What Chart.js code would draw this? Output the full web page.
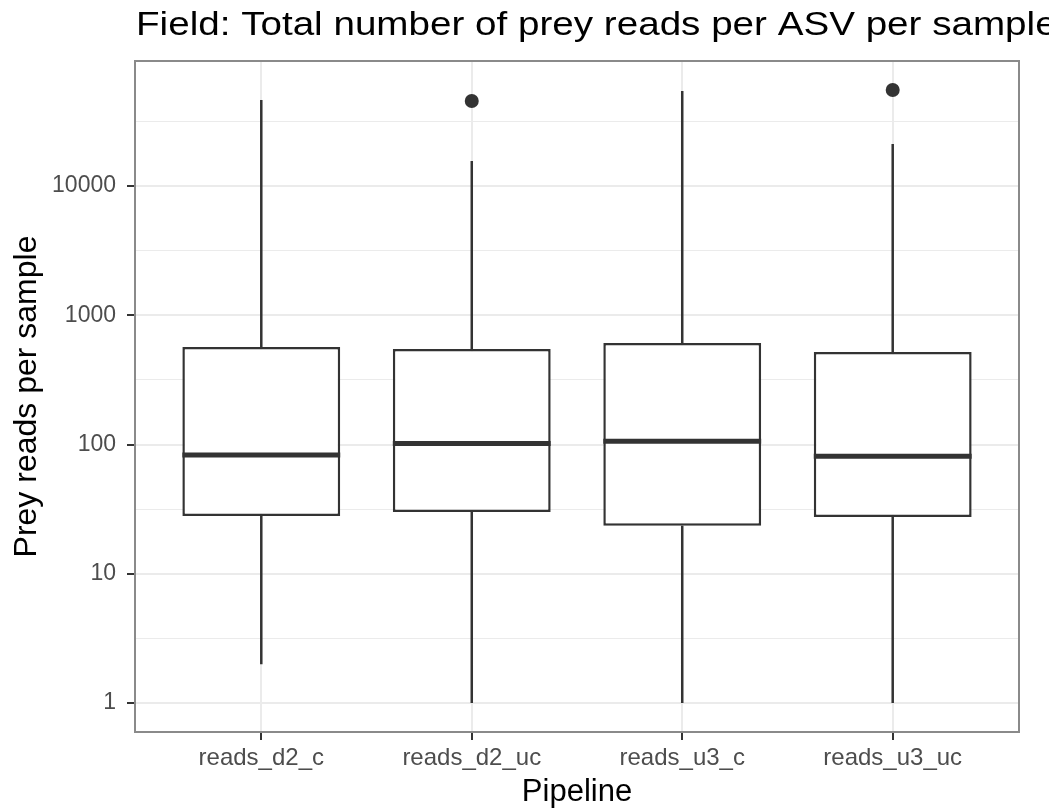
<!DOCTYPE html>
<html>
<head>
<meta charset="utf-8">
<script src="https://cdn.jsdelivr.net/npm/chart.js@4.4.1/dist/chart.umd.min.js"></script>
<style>
  html, body { margin: 0; padding: 0; background: #fff; }
  #wrap { width: 1049px; height: 811px; }
</style>
</head>
<body>
<div id="wrap"><canvas id="box"></canvas></div>
<script>
// Boxplot: prey reads per sample for each pipeline (log10 y axis)
const pipelines = ['reads_d2_c', 'reads_d2_uc', 'reads_u3_c', 'reads_u3_uc'];
const whiskerLow = [2, 1, 1, 1];
const q1 = [28, 30, 23.5, 27.5];
const medians = [83, 102, 106, 81];
const q3 = [568, 548, 610, 520];
const whiskerHigh = [46300, 15600, 54300, 21100];
const outliers = [null, 45500, null, 55300];
const yMajorTicks = [1, 10, 100, 1000, 10000];

const FONT = "'Liberation Sans', Arial, Helvetica, sans-serif";
const isMajor = v => Math.abs(Math.log10(v) - Math.round(Math.log10(v))) < 1e-6;

// whiskers as one line with gaps between segments
const whiskerPts = [];
pipelines.forEach((p, i) => {
  whiskerPts.push({ x: i + 1, y: whiskerLow[i] }, { x: i + 1, y: q1[i] }, { x: i + 1, y: null });
  whiskerPts.push({ x: i + 1, y: q3[i] }, { x: i + 1, y: whiskerHigh[i] }, { x: i + 1, y: null });
});

// median line across each box + title + panel border
const boxExtras = {
  id: 'boxExtras',
  afterDatasetsDraw(chart) {
    const ctx = chart.ctx;
    const meta = chart.getDatasetMeta(0);
    ctx.save();
    ctx.strokeStyle = '#333333';
    ctx.lineWidth = 5;
    meta.data.forEach((bar, i) => {
      const y = chart.scales.y.getPixelForValue(medians[i]);
      ctx.beginPath();
      ctx.moveTo(bar.x - bar.width / 2, y);
      ctx.lineTo(bar.x + bar.width / 2, y);
      ctx.stroke();
    });
    ctx.restore();
  },
  afterDraw(chart) {
    const ctx = chart.ctx;
    const a = chart.chartArea;
    ctx.save();
    ctx.strokeStyle = '#8a8a8a';
    ctx.lineWidth = 2;
    ctx.strokeRect(a.left, a.top, a.right - a.left, a.bottom - a.top);
    // title is left-aligned on the panel and runs off the right edge, like the original
    ctx.fillStyle = '#000';
    ctx.font = '33px ' + FONT;
    ctx.textBaseline = 'middle';
    ctx.textAlign = 'left';
    ctx.translate(a.left + 1, 26);
    ctx.scale(1.17, 1);
    ctx.fillText('Field: Total number of prey reads per ASV per sample', 0, 0);
    ctx.restore();
  }
};

new Chart(document.getElementById('box'), {
  type: 'bar',
  data: {
    datasets: [
      {
        type: 'bar',
        label: 'box',
        data: pipelines.map((p, i) => ({ x: i + 1, y: [q1[i], q3[i]] })),
        backgroundColor: '#ffffff',
        borderColor: '#333333',
        borderWidth: 2.5,
        borderSkipped: false,
        categoryPercentage: 1,
        barPercentage: 0.75
      },
      {
        type: 'line',
        label: 'whiskers',
        data: whiskerPts,
        borderColor: '#333333',
        borderWidth: 2.5,
        pointRadius: 0,
        spanGaps: false
      },
      {
        type: 'scatter',
        label: 'outliers',
        data: pipelines.map((p, i) => ({ x: i + 1, y: outliers[i] })).filter(d => d.y !== null),
        backgroundColor: '#333333',
        borderWidth: 0,
        pointRadius: 7
      }
    ]
  },
  options: {
    responsive: true,
    maintainAspectRatio: false,
    animation: false,
    layout: { padding: { top: 61, right: 30, left: 0, bottom: 0 } },
    plugins: {
      legend: { display: false },
      tooltip: { enabled: false },
      title: { display: false }
    },
    scales: {
      x: {
        type: 'linear',
        min: 0.4,
        max: 4.6,
        bounds: 'data',
        offset: false,
        afterBuildTicks: s => { s.ticks = pipelines.map((p, i) => ({ value: i + 1 })); },
        afterFit: s => { s.height = 79; },
        border: { display: false },
        grid: { offset: false, color: '#ebebeb', lineWidth: 2, tickColor: '#333333', tickWidth: 2, tickLength: 8 },
        ticks: {
          callback: v => pipelines[v - 1],
          color: '#4d4d4d',
          font: { family: FONT, size: 24 },
          padding: 4,
          maxRotation: 0,
          autoSkip: false
        },
        title: {
          display: true,
          text: 'Pipeline',
          color: '#000',
          font: { family: FONT, size: 31, lineHeight: 1.2 },
          padding: { top: 0, bottom: 0 }
        }
      },
      y: {
        type: 'logarithmic',
        min: 0.597,
        max: 92700,
        bounds: 'data',
        afterBuildTicks: s => {
          const t = [];
          yMajorTicks.forEach(v => { t.push({ value: v }); t.push({ value: v * Math.sqrt(10) }); });
          s.ticks = t;
        },
        afterFit: s => { s.width = 135; },
        border: { display: false },
        grid: {
          color: '#ebebeb',
          lineWidth: c => (c.tick && isMajor(c.tick.value) ? 2 : 1),
          tickColor: c => (c.tick && isMajor(c.tick.value) ? '#333333' : 'rgba(0,0,0,0)'),
          tickWidth: 2,
          tickLength: 8
        },
        ticks: {
          callback: v => (isMajor(v) ? String(Math.round(v)) : ''),
          color: '#4d4d4d',
          font: { family: FONT, size: 23 },
          padding: 11,
          autoSkip: false
        },
        title: {
          display: true,
          text: 'Prey reads per sample',
          color: '#000',
          font: { family: FONT, size: 32, lineHeight: 1.2 },
          padding: { top: 8, bottom: 0 }
        }
      }
    }
  },
  plugins: [boxExtras]
});
</script>
</body>
</html>
